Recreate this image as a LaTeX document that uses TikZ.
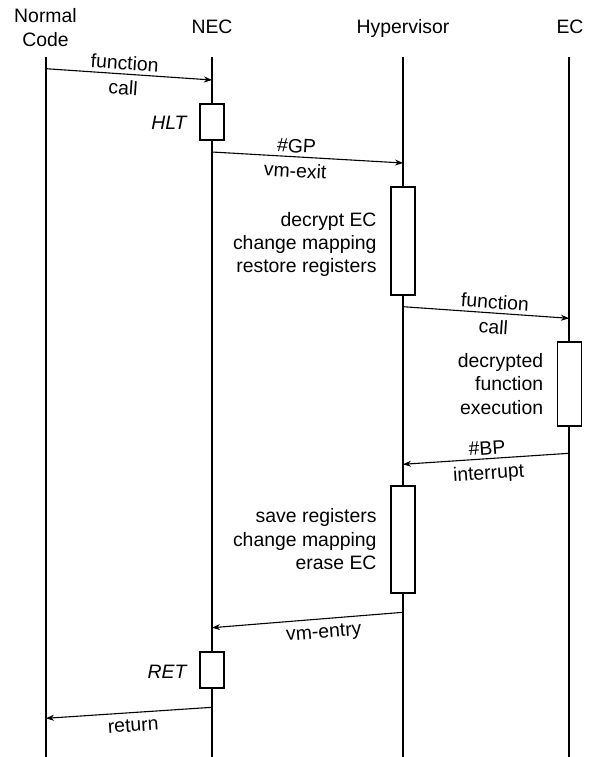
\documentclass[tikz,border=0pt]{standalone}
\usepackage{fontspec}
\setmainfont{Liberation Sans}
\usetikzlibrary{arrows.meta}
\begin{document}
\begin{tikzpicture}[x=1pt,y=-1pt,
  every node/.style={font=\fontsize{19.4}{23.3}\selectfont},
  head/.style={anchor=base, inner sep=0pt},
  life/.style={line width=1.1pt},
  actbox/.style={draw, line width=1.1pt, fill=white, minimum width=24pt, inner sep=0pt},
  msg/.style={line width=1.1pt, -{Stealth[length=8pt,width=6pt,inset=2.5pt]}},
  lblabove/.style={sloped, above, inner sep=3.5pt},
  lblbelow/.style={sloped, below, inner sep=6pt},
  note/.style={anchor=base east, align=right, inner sep=0pt},
  instr/.style={anchor=base east, inner sep=0pt, font=\fontsize{19.4}{23.3}\selectfont\itshape},
]
\useasboundingbox (0,0) rectangle (591,757);
% headers (base anchor of a multi-line node = baseline of its last line)
\node[head, align=center, font=\fontsize{19.4}{23.8}\selectfont] (nc) at (45.5,46.5) {Normal\\Code};
\node[head] (nec) at (212,34) {NEC};
\node[head] (hyp) at (403,34) {Hypervisor};
\node[head] (ec) at (570,34) {EC};
% lifelines
\coordinate (nct) at (46,57);  \coordinate (ncb) at (46,757);
\coordinate (nect) at (212,57); \coordinate (necb) at (212,757);
\coordinate (hypt) at (403,57); \coordinate (hypb) at (403,757);
\coordinate (ect) at (569,57);  \coordinate (ecb) at (569,757);
\draw[life] (nct) -- (ncb);
\draw[life] (nect) -- (necb);
\draw[life] (hypt) -- (hypb);
\draw[life] (ect) -- (ecb);
% activation boxes
\node[actbox, minimum height=36pt] (b1) at (212,122) {};
\node[actbox, minimum height=108pt] (b2) at (403,241) {};
\node[actbox, minimum height=84pt] (b3) at (569.5,384) {};
\node[actbox, minimum height=107pt] (b4) at (403,539.5) {};
\node[actbox, minimum height=36pt] (b5) at (212,670) {};
% texts next to boxes
\node[instr] (hlt) at (186.7,129.3) {HLT};
\node[instr] (ret) at (186.7,678) {RET};
\node[note] (n1) at (376.7,272.6) {decrypt EC\\change mapping\\restore registers};
\node[note] (n3) at (543.3,414) {decrypted\\function\\execution};
\node[note] (n2) at (376.7,569.3) {save registers\\change mapping\\erase EC};
% messages
\coordinate (m1s) at (46,68.7);   \coordinate (m1e) at (212,80);
\coordinate (m2s) at (212,152);   \coordinate (m2e) at (403,163);
\coordinate (m3s) at (403,306.7); \coordinate (m3e) at (569,318.3);
\coordinate (m4s) at (569,453.3); \coordinate (m4e) at (403,464.3);
\coordinate (m5s) at (403,612.3); \coordinate (m5e) at (212,627.7);
\coordinate (m6s) at (212,707.3); \coordinate (m6e) at (46,718.3);
\draw[msg] (m1s) -- node[lblabove,pos=0.47]{function} node[lblbelow,pos=0.47]{call} (m1e);
\draw[msg] (m2s) -- node[lblabove,pos=0.44]{\#GP} node[lblbelow,pos=0.44]{vm-exit} (m2e);
\draw[msg] (m3s) -- node[lblabove,pos=0.55]{function} node[lblbelow,pos=0.55]{call} (m3e);
\draw[msg] (m4s) -- node[lblabove,pos=0.49]{\#BP} node[lblbelow,pos=0.49]{interrupt} (m4e);
\draw[msg] (m5s) -- node[lblbelow,pos=0.42]{vm-entry} (m5e);
\draw[msg] (m6s) -- node[lblbelow,pos=0.48]{return} (m6e);
\end{tikzpicture}
\end{document}
